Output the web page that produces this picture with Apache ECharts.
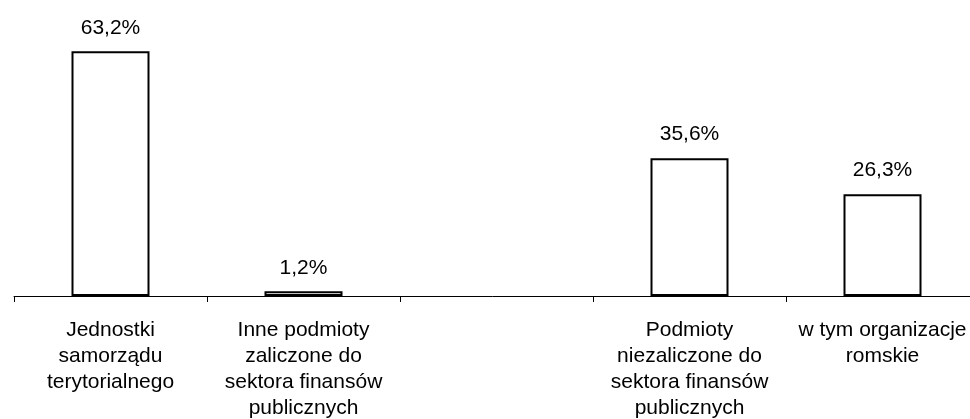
<!DOCTYPE html>
<html>
<head>
<meta charset="utf-8">
<script src="https://cdn.jsdelivr.net/npm/echarts@6/dist/echarts.min.js"></script>
<style>
  html, body { margin: 0; padding: 0; background: #fff; }
  #main { width: 970px; height: 419px; }
</style>
</head>
<body>
<div id="main"></div>
<script>
// dane z wykresu
var categories = [
    'Jednostki\nsamorządu\nterytorialnego',
    'Inne podmioty\nzaliczone do\nsektora finansów\npublicznych',
    '',
    'Podmioty\nniezaliczone do\nsektora finansów\npublicznych',
    'w tym organizacje\nromskie'
];
var values = [63.2, 1.2, '-', 35.6, 26.3];

var myChart = echarts.init(document.getElementById('main'));
var option = {
    animation: false,
    grid: {
        left: 14,
        width: 965,
        top: 25,
        bottom: 123,
        outerBoundsMode: 'none'
    },
    xAxis: [{
        type: 'category',
        data: categories,
        axisLine: {
            lineStyle: { color: '#000', width: 1 }
        },
        axisTick: {
            show: true,
            length: 6,
            lineStyle: { color: '#000' }
        },
        axisLabel: {
            interval: 0,
            margin: 21,
            color: '#000',
            fontFamily: 'Liberation Sans',
            fontSize: 21,
            lineHeight: 26
        }
    }],
    yAxis: [{
        type: 'value',
        min: 0,
        max: 70,
        show: false,
        splitLine: { show: false }
    }],
    series: [{
        type: 'bar',
        data: values,
        barWidth: 78,
        itemStyle: {
            color: '#fff',
            borderColor: '#000',
            borderWidth: 2
        },
        label: {
            show: true,
            position: 'top',
            distance: 13,
            color: '#000',
            fontFamily: 'Liberation Sans',
            fontSize: 21,
            formatter: function (p) {
                return String(p.value.toFixed(1)).replace('.', ',') + '%';
            }
        }
    }]
};

myChart.setOption(option);
</script>
</body>
</html>
